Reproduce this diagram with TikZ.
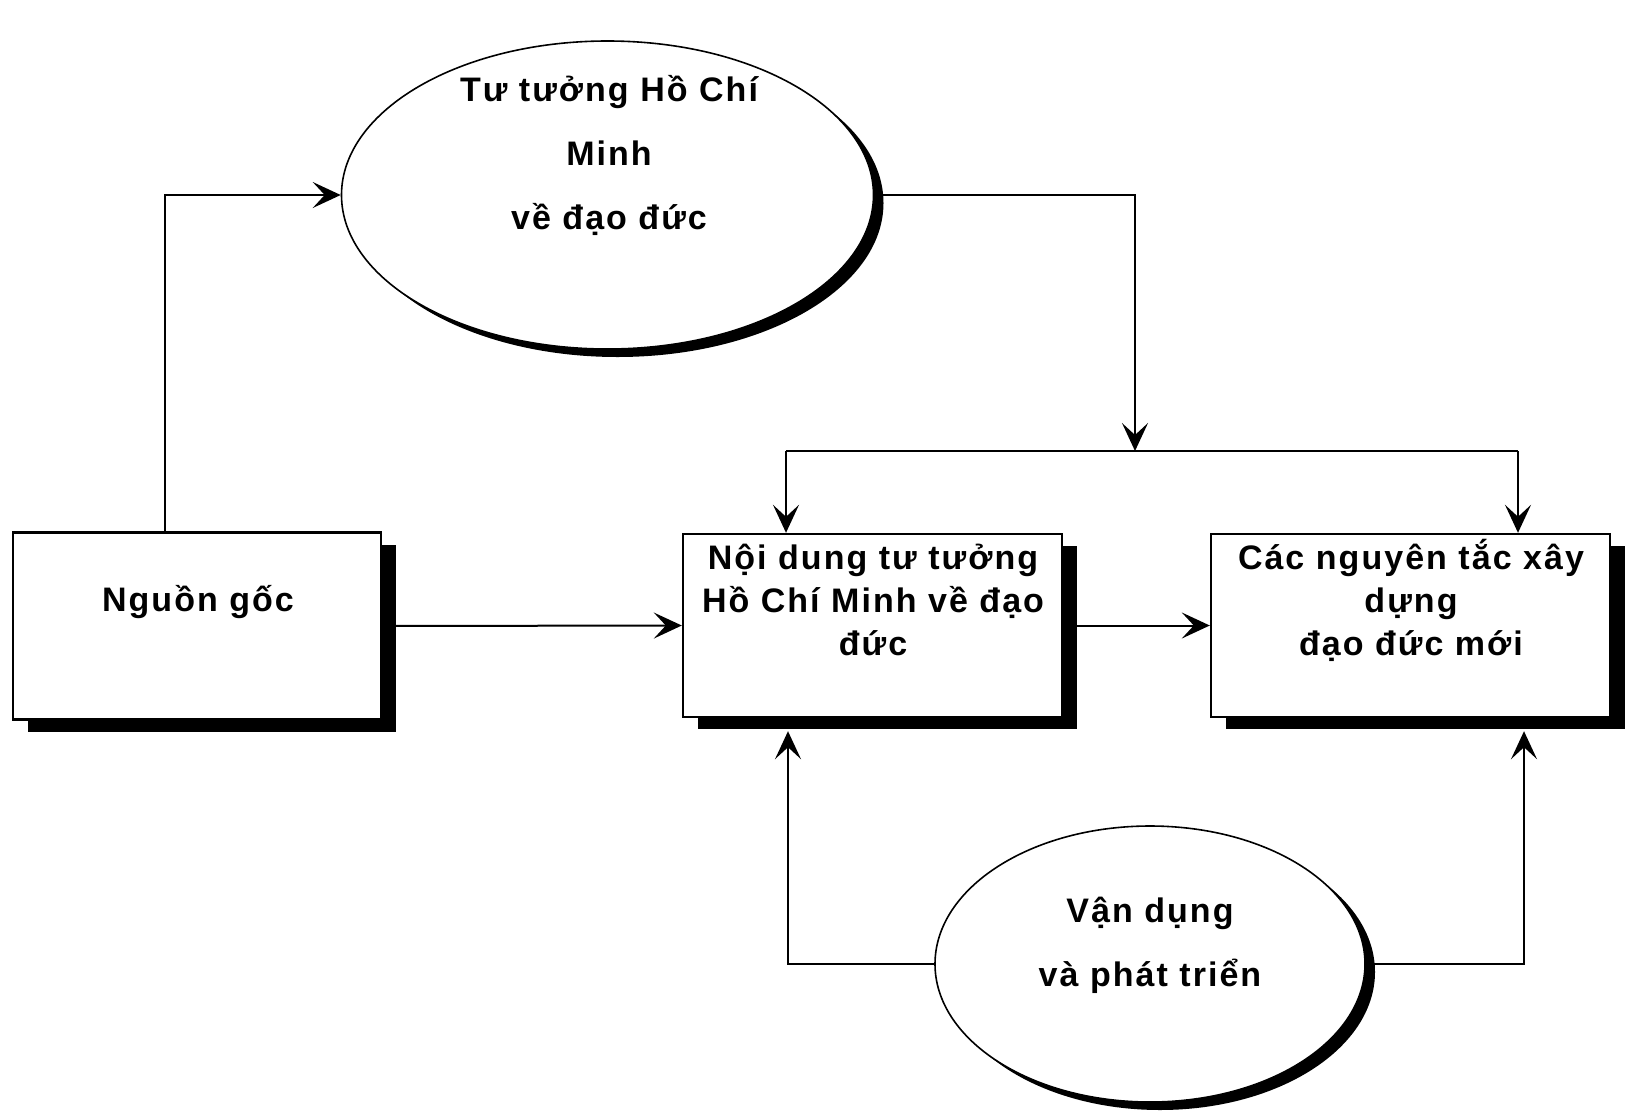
\documentclass[tikz,border=0pt]{standalone}
\usepackage{fontspec}
\setmainfont{Liberation Sans}[LetterSpace=6]
\usetikzlibrary{arrows.meta,shadows,shapes.geometric}
\begin{document}
\begin{tikzpicture}[x=0.5pt,y=-0.5pt,
  txt/.style={font=\bfseries\fontsize{17pt}{21.5pt}\selectfont, align=center, inner sep=0pt},
  etxt/.style={font=\bfseries\fontsize{17pt}{32pt}\selectfont, align=center, inner sep=0pt},
  boxnode/.style={draw=black, line width=1.2pt, fill=white, rectangle, inner sep=0pt,
    drop shadow={shadow xshift=7.5pt, shadow yshift=-6pt, fill=black, opacity=1}},
  ovalnode/.style={draw=black, line width=0.8pt, fill=white, ellipse, inner sep=0pt,
    drop shadow={shadow xshift=5pt, shadow yshift=-4pt, fill=black, opacity=1}},
  arr/.style={line width=1pt, -{Stealth[length=14pt,width=13pt,inset=6pt]}},
  conn/.style={line width=1pt}]
\useasboundingbox (0,0) rectangle (1633,1114);

\node[boxnode, minimum width=184pt, minimum height=93.5pt] (A) at (197,626) {};
\node[boxnode, minimum width=189.5pt, minimum height=91.5pt] (B) at (872.5,625.5) {};
\node[boxnode, minimum width=199.5pt, minimum height=91.5pt] (C) at (1410.5,625.5) {};
\node[ovalnode, minimum width=266pt, minimum height=154pt] (E1) at (607.5,195) {};
\node[ovalnode, minimum width=215pt, minimum height=138pt] (E2) at (1150,964) {};

\node[txt] (tA) at (198,602) {Nguồn gốc};
\node[txt] (tB) at (873,600) {Nội dung tư tưởng\\Hồ Chí Minh về đạo\\đức};
\node[txt] (tC) at (1411,600) {Các nguyên tắc xây\\dựng\\đạo đức mới};
\node[etxt] (tE1) at (609,155) {Tư tưởng Hồ Chí\\Minh\\về đạo đức};
\node[etxt] (tE2) at (1150,945) {Vận dụng\\và phát triển};

\coordinate (jA) at (165,0);
\draw[arr] (A.north -| jA) |- (E1.west);
\coordinate (j) at (1135,451);
\draw[arr] (E1.east) -| (j);
\coordinate (jl) at (786,451);
\coordinate (jr) at (1518,451);
\draw[conn] (jl) -- (jr);
\draw[arr] (jl) -- (jl |- B.north);
\draw[arr] (jr) -- (jr |- C.north);
\draw[arr] (A.east) -- (B.west);
\draw[arr] (B.east) -- (C.west);
\coordinate (bs) at ([yshift=-6.5pt]B.south);
\coordinate (cs) at ([yshift=-6.5pt]C.south);
\coordinate (bx) at (788,0);
\coordinate (cx) at (1524,0);
\draw[arr] (E2.west) -| (bx |- bs);
\draw[arr] (E2.east) -| (cx |- cs);
\end{tikzpicture}
\end{document}
